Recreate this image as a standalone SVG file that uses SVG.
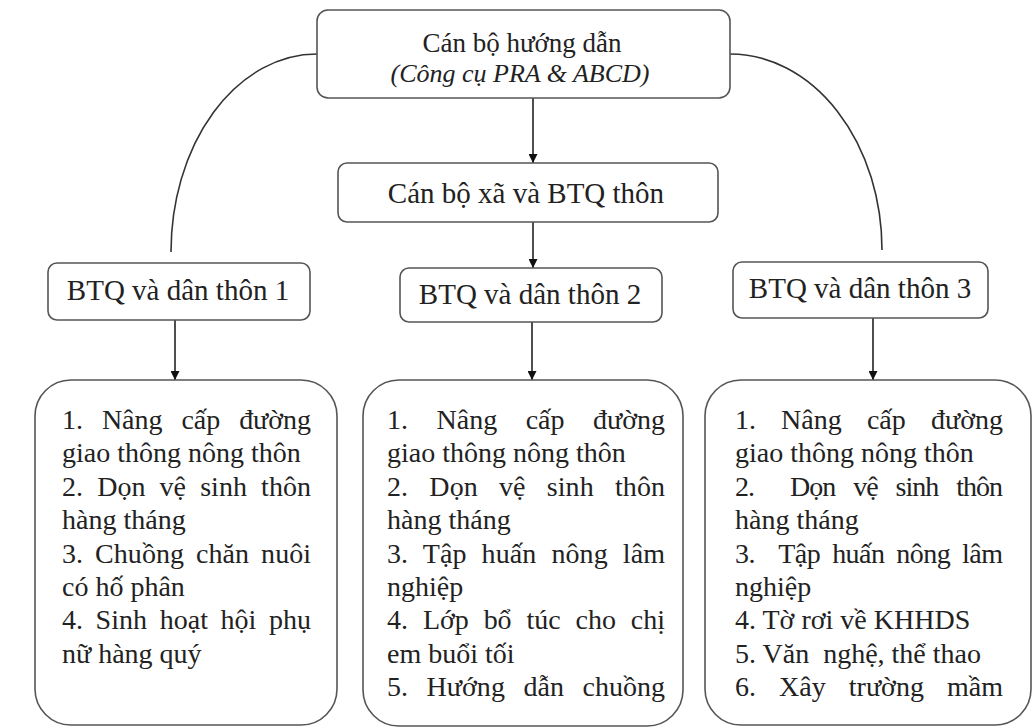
<svg xmlns="http://www.w3.org/2000/svg" width="1033" height="728" viewBox="0 0 1033 728">
<defs>
<marker id="ah" viewBox="0 0 10 10" refX="10" refY="5" markerWidth="9" markerHeight="9" markerUnits="userSpaceOnUse" orient="auto">
<path d="M0,0 L10,5 L0,10 z" fill="#111"/>
</marker>
<style>
.box{fill:#fff;stroke:#555;stroke-width:1.6}
.t{font-family:"Liberation Serif","Times New Roman",serif;fill:#222}
.lbl{font-size:29px;text-anchor:middle}
.body{font-size:28px}
.conn{fill:none;stroke:#333;stroke-width:1.6}
.arr{fill:none;stroke:#222;stroke-width:1.6;marker-end:url(#ah)}
</style>
</defs>
<rect width="1033" height="728" fill="#fff"/>

<g id="connectors">
<path class="conn" d="M317,54 A146,198 0 0 0 171,252"/>
<path class="conn" d="M730,54 A152,196 0 0 1 882,250"/>
<line class="arr" x1="533" y1="98" x2="533" y2="163"/>
<line class="arr" x1="533" y1="222" x2="533" y2="268"/>
<line class="arr" x1="175" y1="320" x2="175" y2="380"/>
<line class="arr" x1="532" y1="322" x2="532" y2="380"/>
<line class="arr" x1="873" y1="318" x2="873" y2="380"/>
</g>

<g id="can-bo-huong-dan">
<rect class="box" x="317" y="10" width="413" height="88" rx="11"/>
<text class="t" x="522" y="52" font-size="27" text-anchor="middle">Cán bộ hướng dẫn</text>
<text class="t" x="520" y="82" font-size="26" font-style="italic" text-anchor="middle">(Công cụ PRA &amp; ABCD)</text>
</g>

<g id="can-bo-xa">
<rect class="box" x="338" y="163" width="380" height="59" rx="9"/>
<text class="t lbl" x="526" y="203">Cán bộ xã và BTQ thôn</text>
</g>

<g id="thon-1">
<rect class="box" x="48" y="263" width="262" height="57" rx="9"/>
<text class="t lbl" x="178" y="300">BTQ và dân thôn 1</text>
</g>

<g id="thon-2">
<rect class="box" x="400" y="268" width="262" height="54" rx="9"/>
<text class="t lbl" x="530" y="304">BTQ và dân thôn 2</text>
</g>

<g id="thon-3">
<rect class="box" x="733" y="262" width="255" height="56" rx="9"/>
<text class="t lbl" x="860" y="298">BTQ và dân thôn 3</text>
</g>

<g id="hoat-dong-1">
<rect class="box" x="35" y="380" width="302" height="345" rx="36"/>
<text class="t body" x="62" y="429" word-spacing="12" textLength="249" lengthAdjust="spacing">1. Nâng cấp đường</text>
<text class="t body" x="62" y="462.4">giao thông nông thôn</text>
<text class="t body" x="62" y="495.8" word-spacing="7" textLength="249" lengthAdjust="spacing">2. Dọn vệ sinh thôn</text>
<text class="t body" x="62" y="529.2">hàng tháng</text>
<text class="t body" x="62" y="562.6" word-spacing="5" textLength="249" lengthAdjust="spacing">3. Chuồng chăn nuôi</text>
<text class="t body" x="62" y="596">có hố phân</text>
<text class="t body" x="62" y="629.4" word-spacing="5.5" textLength="249" lengthAdjust="spacing">4. Sinh hoạt hội phụ</text>
<text class="t body" x="62" y="662.8">nữ hàng quý</text>
</g>

<g id="hoat-dong-2">
<rect class="box" x="363" y="380" width="320" height="346" rx="36"/>
<text class="t body" x="387" y="429" word-spacing="21.5" textLength="278" lengthAdjust="spacing">1. Nâng cấp đường</text>
<text class="t body" x="387" y="462.4">giao thông nông thôn</text>
<text class="t body" x="387" y="495.8" word-spacing="14" textLength="278" lengthAdjust="spacing">2. Dọn vệ sinh thôn</text>
<text class="t body" x="387" y="529.2">hàng tháng</text>
<text class="t body" x="387" y="562.6" word-spacing="8" textLength="278" lengthAdjust="spacing">3. Tập huấn nông lâm</text>
<text class="t body" x="387" y="596">nghiệp</text>
<text class="t body" x="387" y="629.4" word-spacing="8" textLength="278" lengthAdjust="spacing">4. Lớp bổ túc cho chị</text>
<text class="t body" x="387" y="662.8">em buổi tối</text>
<text class="t body" x="387" y="696.2" word-spacing="11.5" textLength="278" lengthAdjust="spacing">5. Hướng dẫn chuồng</text>
</g>

<g id="hoat-dong-3">
<rect class="box" x="705" y="380" width="326" height="345" rx="36"/>
<text class="t body" x="735" y="429" word-spacing="18" textLength="268" lengthAdjust="spacing">1. Nâng cấp đường</text>
<text class="t body" x="735" y="462.4">giao thông nông thôn</text>
<text class="t body" x="735" y="495.8" word-spacing="12" textLength="268" lengthAdjust="spacing" xml:space="preserve">2.  Dọn vệ sinh thôn</text>
<text class="t body" x="735" y="529.2">hàng tháng</text>
<text class="t body" x="735" y="562.6" word-spacing="5.5" textLength="268" lengthAdjust="spacing" xml:space="preserve">3.  Tập huấn nông lâm</text>
<text class="t body" x="735" y="596">nghiệp</text>
<text class="t body" x="735" y="629.4">4. Tờ rơi về KHHDS</text>
<text class="t body" x="735" y="662.8" xml:space="preserve">5. Văn  nghệ, thể thao</text>
<text class="t body" x="735" y="696.2" word-spacing="16" textLength="268" lengthAdjust="spacing">6. Xây trường mầm</text>
</g>
</svg>
